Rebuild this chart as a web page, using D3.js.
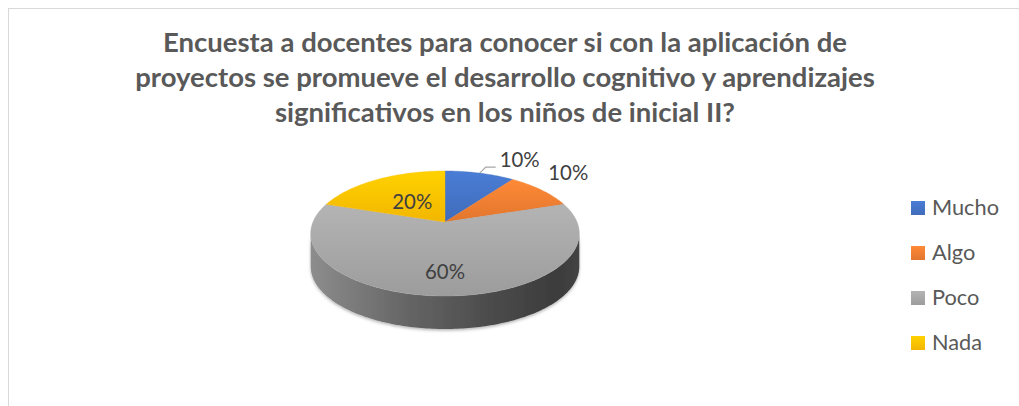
<html>
  <head>
	<meta charset="utf-8">
	<title>Encuesta a docentes</title>
	<script src="https://d3js.org/d3.v7.min.js"></script>
	<style>
	  body { margin: 0; background: #fff; }
	  text { font-family: Lato, "Open Sans", sans-serif; }
	</style>
  </head>
  <body>

  <svg width="1019" height="406"></svg>

	<script type="text/javascript">

    // datos
    var categorias = ["Mucho", "Algo", "Poco", "Nada"];
    var valores = [10, 10, 60, 20];
    var colores = ["#4472C4", "#ED7D31", "#A5A5A5", "#FFC000"];
    var titulo = [
        "Encuesta a docentes para conocer si con la aplicación de",
        "proyectos se promueve el desarrollo cognitivo y aprendizajes",
        "significativos en los niños de inicial II?"
    ];

    // geometria del pastel 3D (perspectiva simple)
    var cx = 445, cy = 222, rx = 132, ry = 60.4, k = 0.184, alto = 33;

    function proy(a, r, baja) {
        var X = r * Math.sin(a), Z = r * Math.cos(a);
        var den = 1 + k * Z;
        return [cx + rx * X / den, cy - ry * Z / den + (baja || 0)];
    }

    function puntosArco(a0, a1, baja) {
        var n = Math.max(2, Math.ceil((a1 - a0) / (Math.PI / 180)));
        return d3.range(n + 1).map(i => proy(a0 + (a1 - a0) * i / n, 1, baja));
    }

    // ajusta el tamaño de letra para que el texto mida "ancho"
    function ajustar(sel, ancho) {
        sel.style("font-size", "100px");
        var w = sel.node().getComputedTextLength();
        var fs = 100 * ancho / w;
        sel.style("font-size", fs + "px");
        return fs;
    }

    var svg = d3.select("svg");
    var defs = svg.append("defs");

    // borde del grafico
    svg.append("rect")
        .attr("x", 8.5).attr("y", 8.5)
        .attr("width", 1040).attr("height", 420)
        .attr("fill", "#fff").attr("stroke", "#d9d9d9");

    // degradados
    colores.forEach(function(c, i) {
        var g = defs.append("linearGradient").attr("id", "sup" + i)
            .attr("x1", 0).attr("y1", 0).attr("x2", 0).attr("y2", 1);
        g.append("stop").attr("offset", 0).attr("stop-color", d3.color(c).brighter(0.25));
        g.append("stop").attr("offset", 1).attr("stop-color", d3.color(c).darker(0.15));

        var l = defs.append("linearGradient").attr("id", "lado" + i)
            .attr("gradientUnits", "userSpaceOnUse")
            .attr("x1", cx - rx * 1.02).attr("x2", cx + rx * 1.02)
            .attr("y1", 0).attr("y2", 0);
        [[0, 0.45], [0.35, 1.35], [0.7, 2.3], [0.92, 2.85], [1, 2.5]].forEach(function(s) {
            l.append("stop").attr("offset", s[0]).attr("stop-color", d3.color(c).darker(s[1]));
        });
    });

    var sombra = defs.append("filter").attr("id", "sombra")
        .attr("x", "-10%").attr("y", "-10%").attr("width", "120%").attr("height", "130%");
    sombra.append("feDropShadow").attr("dx", 0).attr("dy", 1.5)
        .attr("stdDeviation", 1.5).attr("flood-color", "#000").attr("flood-opacity", 0.3);

    // titulo
    var grupoTitulo = svg.append("g");
    var lineasTitulo = grupoTitulo.selectAll("text").data(titulo).join("text")
        .attr("x", 505)
        .attr("y", (d, i) => 51.5 + i * 35)
        .attr("text-anchor", "middle")
        .attr("font-weight", "bold")
        .attr("fill", "#595959")
        .text(d => d);
    var fsTitulo = ajustar(d3.select(lineasTitulo.nodes()[1]), 740);
    lineasTitulo.style("font-size", fsTitulo + "px");

    // pastel
    var pie = d3.pie().sort(null).value(d => d);
    var arcos = pie(valores);
    var total = d3.sum(valores);
    var linea = d3.line();

    // lado frontal
    var t1 = Math.acos(-k), t2 = 2 * Math.PI - t1;
    svg.append("g").attr("filter", "url(#sombra)")
        .selectAll("path")
        .data(arcos.filter(d => Math.max(d.startAngle, t1) < Math.min(d.endAngle, t2)))
        .join("path")
        .attr("d", function(d) {
            var s = Math.max(d.startAngle, t1), e = Math.min(d.endAngle, t2);
            var pts = puntosArco(s, e, 0).concat(puntosArco(s, e, alto).reverse());
            return linea(pts) + "Z";
        })
        .attr("fill", d => "url(#lado" + d.index + ")");

    // superficie
    svg.append("g").selectAll("path")
        .data(arcos)
        .join("path")
        .attr("d", d => linea([[cx, cy]].concat(puntosArco(d.startAngle, d.endAngle, 0))) + "Z")
        .attr("fill", d => "url(#sup" + d.index + ")")
        .attr("stroke", d => colores[d.index])
        .attr("stroke-width", 0.4);

    // etiquetas de datos
    var ubicacion = {
        Mucho: { modo: "guia" },
        Algo: { modo: "fuera", r: 1.08 },
        Poco: { modo: "dentro", r: 0.72 },
        Nada: { modo: "dentro", r: 0.45 }
    };
    var fmt = d3.format(".0%");
    var grupoEtq = svg.append("g");

    var prueba = grupoEtq.append("text").text("10%");
    var fsEtq = ajustar(prueba, 40);
    prueba.remove();

    arcos.forEach(function(d) {
        var u = ubicacion[categorias[d.index]];
        var mid = (d.startAngle + d.endAngle) / 2;
        var txt = grupoEtq.append("text")
            .attr("fill", "#404040")
            .style("font-size", fsEtq + "px")
            .text(fmt(d.value / total));
        if (u.modo == "dentro") {
            var p = proy(mid, u.r, 0);
            txt.attr("x", p[0]).attr("y", p[1]).attr("text-anchor", "middle").attr("dy", "0.35em");
        } else if (u.modo == "fuera") {
            var p = proy(mid, u.r, 0);
            txt.attr("x", p[0]).attr("y", p[1] - 8).attr("text-anchor", "start");
        } else {
            var p0 = proy(mid, 1, 0);
            var p1 = [p0[0] + 6, p0[1] - 6];
            var p2 = [p1[0] + 10, p1[1]];
            grupoEtq.append("path")
                .attr("d", linea([p0, p1, p2]))
                .attr("fill", "none")
                .attr("stroke", "#a6a6a6")
                .attr("stroke-width", 1.2);
            txt.attr("x", p2[0] + 4).attr("y", p2[1]).attr("text-anchor", "start");
        }
    });

    // leyenda
    var leyenda = svg.append("g").selectAll("g")
        .data(categorias)
        .join("g")
        .attr("transform", (d, i) => "translate(911," + (201 + i * 45) + ")");

    leyenda.append("rect")
        .attr("width", 14).attr("height", 14)
        .attr("fill", (d, i) => "url(#sup" + i + ")");

    var textosLeyenda = leyenda.append("text")
        .attr("x", 21).attr("y", 14)
        .attr("fill", "#595959")
        .text(d => d);
    var fsLey = ajustar(d3.select(textosLeyenda.nodes()[0]), 67);
    textosLeyenda.style("font-size", fsLey + "px");

	</script>
  </body>

</html>
